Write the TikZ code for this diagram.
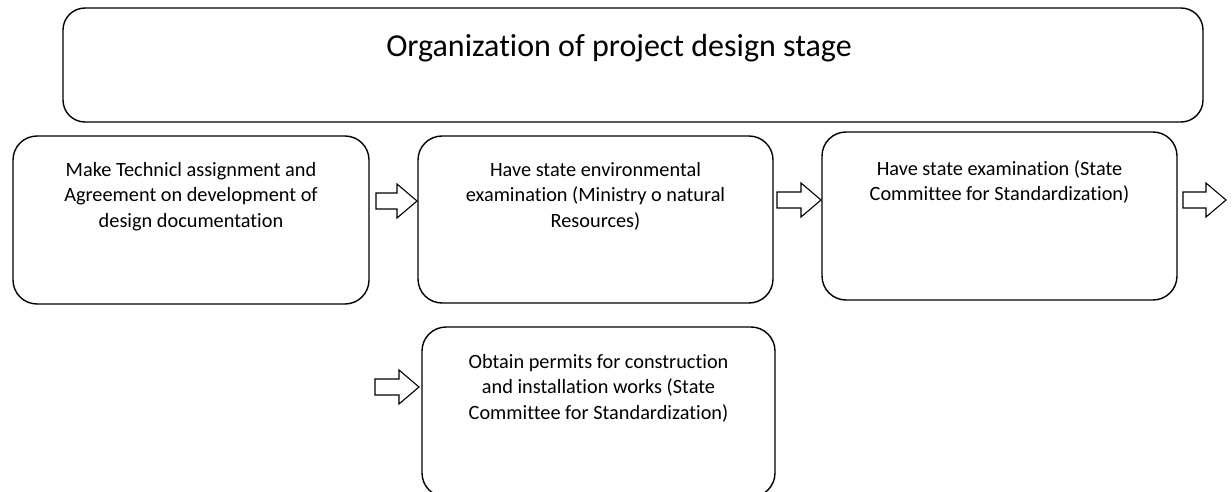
\documentclass[tikz,border=0pt]{standalone}
\usepackage{fontspec}
\setmainfont{Carlito}[RawFeature={-liga;-clig}]
\begin{document}
\begin{tikzpicture}[x=1pt,y=-1pt,
  box/.style={draw=black, line width=1.4pt, rounded corners=24pt, inner sep=0pt, outer sep=0pt},
  txt/.style={anchor=north, align=center, inner sep=0pt, font=\fontsize{20.3}{25.5}\selectfont},
  flowarrow/.style={draw=black, line width=1.1pt, fill=white, line join=miter}
]
\useasboundingbox (0,0) rectangle (1232,492);
\fill[white] (0,0) rectangle (1232,492);
% title
\node[box, rounded corners=22pt, minimum width=1140pt, minimum height=114pt] (title) at (633,65) {};
\node[anchor=base, inner sep=0pt, font=\fontsize{32}{38}\selectfont] (ttl) at (619,57) {Organization of project design stage};
% boxes
\node[box, minimum width=356pt, minimum height=168pt] (b1) at (191,220) {};
\node[box, minimum width=355pt, minimum height=167pt] (b2) at (595.5,219.5) {};
\node[box, minimum width=355pt, minimum height=168pt] (b3) at (999.5,216) {};
\node[box, minimum width=353pt, minimum height=170pt] (b4) at (598.5,412) {};
% texts
\node[txt] (t1) at ([yshift=-26pt]b1.north) {Make Technicl assignment and\\Agreement on development of\\design documentation};
\node[txt] (t2) at ([yshift=-26pt]b2.north) {Have state environmental\\examination (Ministry o natural\\Resources)};
\node[txt] (t3) at ([yshift=-28pt]b3.north) {Have state examination (State\\Committee for Standardization)};
\node[txt] (t4) at ([yshift=-27pt]b4.north) {Obtain permits for construction\\and installation works (State\\Committee for Standardization)};
% arrows
\coordinate (a1) at (376,217);
\coordinate (a2) at (777,216);
\coordinate (a3) at (1183,216);
\coordinate (a4) at (375,403);
\foreach \c/\len in {a1/41,a2/44,a3/43,a4/44}{
  \draw[flowarrow] ([yshift=8pt]\c) -- ++(\len-20,0) -- ++(0,9) -- ++(20,-17) -- ++(-20,-17) -- ++(0,9) -- ++(-\len+20,0) -- cycle;
}
\end{tikzpicture}
\end{document}
